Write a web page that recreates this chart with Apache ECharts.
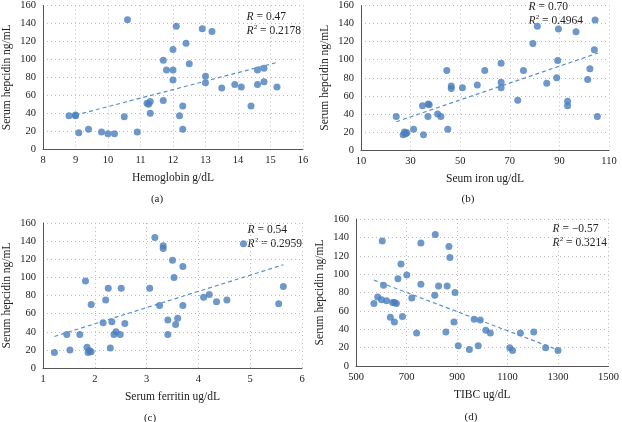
<!DOCTYPE html>
<html>
<head>
<meta charset="utf-8">
<script src="https://cdn.jsdelivr.net/npm/echarts@6/dist/echarts.min.js"></script>
<style>
  html, body { margin: 0; padding: 0; background: #fff; }
  #main { width: 622px; height: 422px; }
</style>
</head>
<body>
<div id="main"></div>
<script>
// (a) hemoglobin vs hepcidin
var hbX = [8.8, 9.0, 9.0, 9.1, 9.4, 9.8, 10.0, 10.2, 10.5, 10.6, 10.9, 11.2, 11.25, 11.3, 11.3, 11.7, 11.7, 11.8, 12.0, 12.0, 12.0, 12.1, 12.2, 12.3, 12.3, 12.4, 12.5, 12.9, 13.0, 13.0, 13.2, 13.5, 13.9, 14.1, 14.4, 14.6, 14.6, 14.8, 14.8, 15.2];
var hbY = [37, 37, 38, 18, 22, 19, 17, 17, 36, 144, 19, 51, 50, 53, 40, 99, 54, 88, 88, 111, 77, 137, 37, 48, 22, 118, 95, 134, 81, 74, 131, 68, 72, 69, 48, 88, 72, 90, 75, 69];
var hbTrend = [[9.0, 37.8], [15.2, 96.5]];

// (b) serum iron vs hepcidin
var feX = [24.2, 27, 27.5, 28, 28.5, 31.2, 34.8, 35.2, 37.0, 37.1, 37.5, 40.9, 42.2, 44.6, 45.0, 46.4, 46.4, 50.9, 56.9, 59.9, 66.5, 66.5, 66.5, 73.2, 75.5, 79.3, 81.1, 84.9, 88.9, 89.3, 89.6, 93.3, 93.3, 96.7, 101.4, 102.3, 104.1, 104.4, 105.3];
var feY = [37, 17, 20, 18, 19, 23, 49, 17, 37, 51, 50, 40, 37, 88, 23, 71, 68, 69, 72, 88, 96, 75, 69, 55, 88, 118, 137, 74, 80, 99, 134, 54, 49, 131, 78, 90, 111, 144, 37];
var feTrend = [[24.2, 31.3], [105.6, 107.4]];

// (c) ferritin vs hepcidin
var ferX = [1.22, 1.46, 1.52, 1.71, 1.82, 1.85, 1.87, 1.90, 1.93, 1.93, 2.16, 2.21, 2.26, 2.30, 2.33, 2.37, 2.41, 2.49, 2.51, 2.58, 3.06, 3.16, 3.25, 3.32, 3.32, 3.41, 3.41, 3.50, 3.53, 3.56, 3.60, 3.70, 3.70, 4.10, 4.21, 4.35, 4.55, 4.87, 5.55, 5.64];
var ferY = [17, 37, 20, 37, 96, 23, 17, 19, 18, 70, 50, 75, 88, 22, 51, 37, 40, 37, 88, 49, 88, 144, 69, 135, 132, 53, 37, 119, 100, 48, 55, 112, 69, 78, 81, 73, 75, 137, 71, 90];
var ferTrend = [[1.22, 34.8], [5.64, 113.9]];

// (d) TIBC vs hepcidin
var tibcX = [571, 586, 601, 604, 609, 621, 636, 645, 652, 653, 660, 666, 678, 684, 701, 721, 740, 757, 757, 812, 814, 827, 856, 861, 868, 872, 888, 892, 905, 949, 968, 984, 992, 1014, 1032, 1109, 1120, 1151, 1204, 1251, 1300];
var tibcY = [68, 75, 72, 136, 88, 71, 53, 69, 48, 69, 68, 95, 111, 54, 99, 74, 36, 134, 89, 77, 143, 87, 37, 87, 130, 118, 48, 80, 22, 18, 51, 22, 50, 39, 36, 20, 17, 36, 37, 20, 17];
var tibcTrend = [[571, 93.5], [1300, 17.5]];

var xNames = ['Hemoglobin g/dL', 'Seum iron ug/dL', 'Serum ferritin ug/dL', 'TIBC ug/dL'];
var yName = 'Serum hepcidin ng/mL';
var rText = ['0.47', '0.70', '0.54', '\u22120.57'];
var r2Text = ['0.2178', '0.4964', '0.2959', '0.3214'];
var panelTags = ['(a)', '(b)', '(c)', '(d)'];

var xRanges = [[8, 16, 1], [10, 110, 20], [1, 6, 1], [500, 1500, 200]];

var myChart = echarts.init(document.getElementById('main'));

var blue = '#4a7ebb';
var serif = '"Liberation Serif", "DejaVu Serif", serif';

function zip(xs, ys) {
  var out = [];
  for (var i = 0; i < xs.length; i++) out.push([xs[i], ys[i]]);
  return out;
}

var grids = [
  { left: 43, top: 5, width: 260, height: 144 },
  { left: 361, top: 5, width: 248, height: 145 },
  { left: 39, top: 223, width: 263, height: 145 },
  { left: 356, top: 219, width: 257, height: 147 }
];

var dotted = { show: true, lineStyle: { color: '#bdbdbd', type: [1, 3], width: 1 } };
var axisLine = { show: true, lineStyle: { color: '#555', width: 1 } };
var lbl = { color: '#222', fontFamily: serif, fontSize: 10.5, formatter: function (v) { return String(v); } };

var xAxes = [], yAxes = [], series = [];
var pts = [zip(hbX, hbY), zip(feX, feY), zip(ferX, ferY), zip(tibcX, tibcY)];
var trends = [hbTrend, feTrend, ferTrend, tibcTrend];

for (var i = 0; i < 4; i++) {
  xAxes.push({
    gridIndex: i, type: 'value',
    min: xRanges[i][0], max: xRanges[i][1], interval: xRanges[i][2],
    name: xNames[i], nameLocation: 'middle', nameGap: 23,
    nameTextStyle: { color: '#222', fontFamily: serif, fontSize: 11.5 },
    axisLine: axisLine, axisTick: { show: false },
    axisLabel: Object.assign({ margin: 6 }, lbl),
    splitLine: dotted
  });
  yAxes.push({
    gridIndex: i, type: 'value', min: 0, max: 160, interval: 20,
    name: yName, nameLocation: 'middle', nameGap: 30,
    nameTextStyle: { color: '#222', fontFamily: serif, fontSize: 11.5 },
    axisLine: axisLine, axisTick: { show: false },
    axisLabel: Object.assign({ margin: 7 }, lbl),
    splitLine: dotted
  });
  series.push({
    type: 'scatter', xAxisIndex: i, yAxisIndex: i,
    data: pts[i], symbolSize: 7,
    itemStyle: { color: blue }
  });
  series.push({
    type: 'line', xAxisIndex: i, yAxisIndex: i,
    data: trends[i], showSymbol: false, symbol: 'none',
    lineStyle: { color: '#5b8fd3', type: [4, 3], width: 1.2 }
  });
}

// R annotations and panel letters
var rPos = [[301, 10], [583, 0], [302, 223], [607, 222]];
var tagPos = [[157, 199], [468, 199], [150, 418], [471, 417]];
var graphics = [];
for (var j = 0; j < 4; j++) {
  graphics.push({
    type: 'text', right: 622 - rPos[j][0], top: rPos[j][1],
    style: {
      text: '{i|R} = ' + rText[j] + '\n{i|R}{s|2} = ' + r2Text[j],
      align: 'right', fill: '#222', font: '11.5px ' + serif, lineHeight: 14,
      rich: {
        i: { fontStyle: 'italic', fontFamily: serif, fontSize: 11.5 },
        s: { fontSize: 7, fontFamily: serif, verticalAlign: 'top', padding: [0, 0, 5, 0] }
      }
    }
  });
  graphics.push({
    type: 'text', x: tagPos[j][0], y: tagPos[j][1],
    style: { text: panelTags[j], align: 'center', verticalAlign: 'middle', fill: '#222', font: '11px ' + serif }
  });
}

var option = {
  animation: false,
  backgroundColor: '#fff',
  grid: grids,
  xAxis: xAxes,
  yAxis: yAxes,
  series: series,
  graphic: graphics
};

myChart.setOption(option);
window.addEventListener('resize', function () {
  myChart.resize();
});
</script>
</body>
</html>
